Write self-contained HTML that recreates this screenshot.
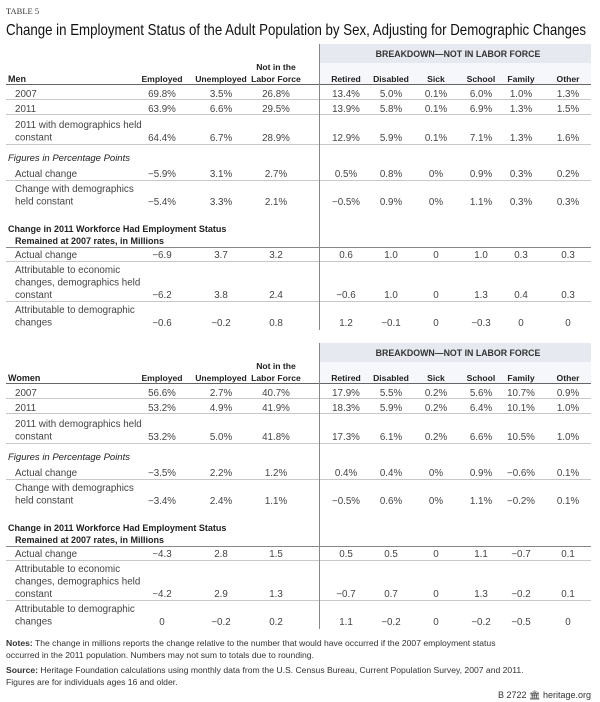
<!DOCTYPE html>
<html><head><meta charset="utf-8">
<style>
html,body{margin:0;padding:0;background:#fff;}
svg{display:block;font-family:"Liberation Sans",sans-serif;}
</style></head>
<body>
<svg id="tbl" width="600" height="702" viewBox="0 0 600 702"></svg>
<script>
const colHeaders=["Employed","Unemployed","Labor Force","Retired","Disabled","Sick","School","Family","Other"];
const colX=[162,221,276,346,391,436,481,521,568];
const rowLabels=[["2007"],["2011"],["2011 with demographics held","constant"],["Actual change"],["Change with demographics","held constant"],["Actual change"],["Attributable to economic","changes, demographics held","constant"],["Attributable to demographic","changes"]];
const menValues=[
["69.8%","3.5%","26.8%","13.4%","5.0%","0.1%","6.0%","1.0%","1.3%"],
["63.9%","6.6%","29.5%","13.9%","5.8%","0.1%","6.9%","1.3%","1.5%"],
["64.4%","6.7%","28.9%","12.9%","5.9%","0.1%","7.1%","1.3%","1.6%"],
["\u22125.9%","3.1%","2.7%","0.5%","0.8%","0%","0.9%","0.3%","0.2%"],
["\u22125.4%","3.3%","2.1%","\u22120.5%","0.9%","0%","1.1%","0.3%","0.3%"],
["\u22126.9","3.7","3.2","0.6","1.0","0","1.0","0.3","0.3"],
["\u22126.2","3.8","2.4","\u22120.6","1.0","0","1.3","0.4","0.3"],
["\u22120.6","\u22120.2","0.8","1.2","\u22120.1","0","\u22120.3","0","0"]];
const womenValues=[
["56.6%","2.7%","40.7%","17.9%","5.5%","0.2%","5.6%","10.7%","0.9%"],
["53.2%","4.9%","41.9%","18.3%","5.9%","0.2%","6.4%","10.1%","1.0%"],
["53.2%","5.0%","41.8%","17.3%","6.1%","0.2%","6.6%","10.5%","1.0%"],
["\u22123.5%","2.2%","1.2%","0.4%","0.4%","0%","0.9%","\u22120.6%","0.1%"],
["\u22123.4%","2.4%","1.1%","\u22120.5%","0.6%","0%","1.1%","\u22120.2%","0.1%"],
["\u22124.3","2.8","1.5","0.5","0.5","0","1.1","\u22120.7","0.1"],
["\u22124.2","2.9","1.3","\u22120.7","0.7","0","1.3","\u22120.2","0.1"],
["0","\u22120.2","0.2","1.1","\u22120.2","0","\u22120.2","\u22120.5","0"]];
const rowTop=[97,112,128,177,192,258,273,313];
const rowVal=[97,112,141,177,205,258,298,326];
const rowLine=[99,114,144,180,null,261,301,null];

const svg=document.getElementById('tbl');
const NS="http://www.w3.org/2000/svg";
function el(tag,attrs,text){const e=document.createElementNS(NS,tag);for(const k in attrs)e.setAttribute(k,attrs[k]);if(text!==undefined)e.textContent=text;svg.appendChild(e);return e;}

let t=el('text',{x:6,y:14,'font-family':'Liberation Serif, serif','font-size':8.5,fill:'#333'},'TABLE 5');


t=el('text',{x:6,y:35,'font-size':16,fill:'#111',textLength:580,lengthAdjust:'spacingAndGlyphs'},'Change in Employment Status of the Adult Population by Sex, Adjusting for Demographic Changes');



function section(off,name,vals){
  let b=el('rect',{x:319,y:44+off,width:272,height:19,fill:'#e7e9f1'});
  
  
  b=el('rect',{x:319,y:63+off,width:272,height:21,fill:'#f6f7fa'});
  
  
  let h=el('text',{x:458,y:57+off,'font-size':8.8,'font-weight':'bold',fill:'#333','text-anchor':'middle'},'BREAKDOWN\u2014NOT IN LABOR FORCE');
  
  
  let g=el('text',{x:8,y:82+off,'font-size':9,'font-weight':'bold',fill:'#222'},name);
  
  
  el('text',{x:colX[2],y:70+off,'font-size':8.6,'font-weight':'bold',fill:'#222','text-anchor':'middle'},'Not in the');
  colHeaders.forEach((c,i)=>{
    const e=el('text',{x:colX[i],y:82+off,'font-size':8.6,'font-weight':'bold',fill:'#222','text-anchor':'middle'},c);
    
    
  });
  el('line',{x1:6,x2:591,y1:84.5+off,y2:84.5+off,stroke:'#666','stroke-width':1});
  let it=el('text',{x:8,y:161+off,'font-size':9.5,'font-style':'italic',fill:'#222'},'Figures in Percentage Points');
  
  
  let s1=el('text',{x:8,y:232+off,'font-size':9,'font-weight':'bold',fill:'#222'},'Change in 2011 Workforce Had Employment Status');
  
  
  el('text',{x:15,y:244+off,'font-size':9,'font-weight':'bold',fill:'#222'},'Remained at 2007 rates, in Millions');
  el('line',{x1:6,x2:591,y1:247.5+off,y2:247.5+off,stroke:'#888','stroke-width':1});
  rowLabels.forEach((lines,r)=>{
    lines.forEach((ln,k)=>{
      const e=el('text',{x:15,y:rowTop[r]+k*12.5+off,'font-size':9.8,fill:'#444'},ln);
      
      
    });
    vals[r].forEach((v,i)=>{
      const e=el('text',{x:colX[i],y:rowVal[r]+off,'font-size':9.8,fill:'#444','text-anchor':'middle'},v);
      
      
    });
    if(rowLine[r]!==null) el('line',{x1:6,x2:591,y1:rowLine[r]+0.5+off,y2:rowLine[r]+0.5+off,stroke:'#c8c8c8','stroke-width':1});
  });
  let d=el('line',{x1:319.5,x2:319.5,y1:44+off,y2:330+off,stroke:'#888','stroke-width':1});
  
  
}
section(0,'Men',menValues);
section(299,'Women',womenValues);

function note(x,y,bold,rest,name){
  const e=el('text',{x:x,y:y,'font-size':8.6,fill:'#333'});
  
  
  if(bold){const b=document.createElementNS(NS,'tspan');b.setAttribute('font-weight','bold');b.textContent=bold;e.appendChild(b);}
  const r=document.createElementNS(NS,'tspan');r.textContent=rest;e.appendChild(r);
}
note(6,646,'Notes:',' The change in millions reports the change relative to the number that would have occurred if the 2007 employment status','notes');
note(6,658,'','occurred in the 2011 population. Numbers may not sum to totals due to rounding.','notes-line-2');
note(6,673,'Source:',' Heritage Foundation calculations using monthly data from the U.S. Census Bureau, Current Population Survey, 2007 and 2011.','source');
note(6,685,'','Figures are for individuals ages 16 and older.','source-line-2');
let f=el('text',{x:591,y:698,'font-size':9,fill:'#333','text-anchor':'end'},'B 2722 \u{1F3DB} heritage.org');


</script>
</body></html>
